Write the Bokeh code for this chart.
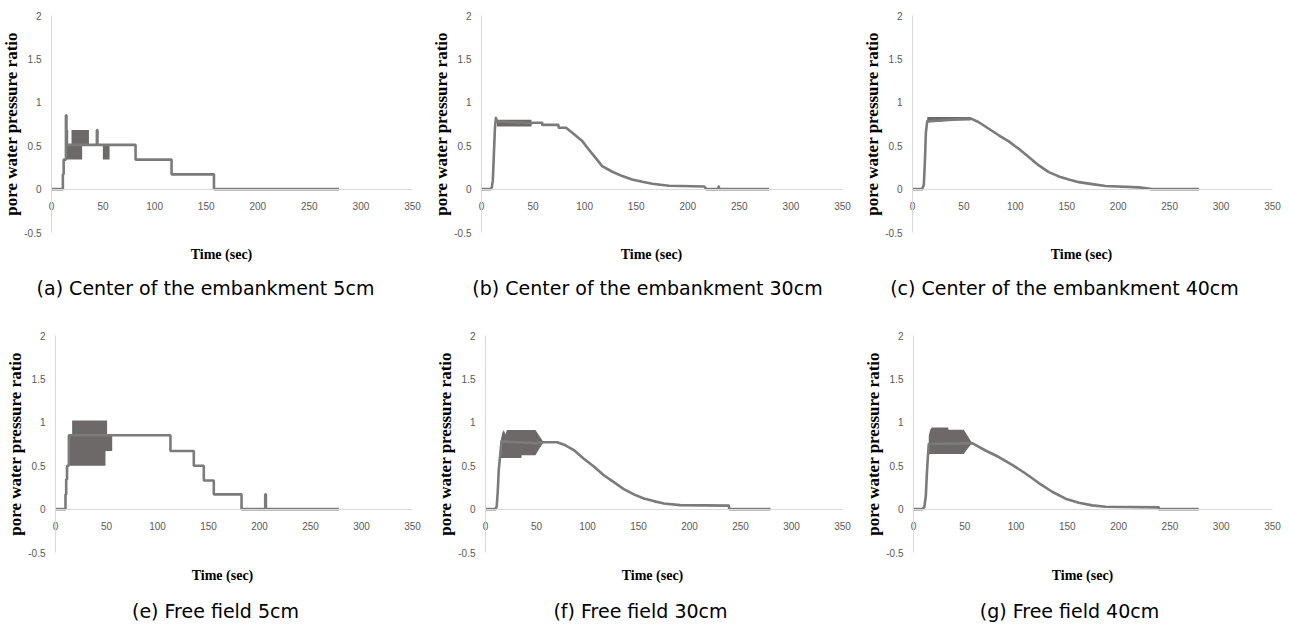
from bokeh.plotting import figure
from bokeh.models import LinearAxis, FixedTicker, NumeralTickFormatter, Label, Range1d
from bokeh.layouts import column, row
from bokeh.embed import file_html
from bokeh.resources import INLINE

# ---------------- data ----------------
X_TICKS = [0, 50, 100, 150, 200, 250, 300, 350]
Y_TICKS = [-0.5, 0, 0.5, 1, 1.5, 2]

CAPTIONS = ["(a) Center of the embankment 5cm",
            "(b) Center of the embankment 30cm",
            "(c) Center of the  embankment 40cm",
            "(e) Free field 5cm",
            "(f) Free field 30cm",
            "(g) Free field 40cm"]

# (a) centre of embankment 5 cm  - stepped record
a_t = [0, 11.0, 11.8, 12.6, 14.0, 14.5, 36.3, 44.0, 44.6, 81.5, 116.4, 157.5, 278.7]
a_v = [0, 0.17, 0.34, 0.34, 0.85, 0.51, 0.51, 0.68, 0.51, 0.34, 0.17, 0.0, 0.0]
a_band1_t = [14.5, 16.2, 16.2, 19.4, 19.4, 29.7, 29.7, 36.3]
a_band1_lo = [0.34, 0.34, 0.34, 0.34, 0.34, 0.34, 0.51, 0.51]
a_band1_hi = [0.68, 0.68, 0.51, 0.51, 0.68, 0.68, 0.68, 0.68]
a_band2_t = [49.8, 56.3]
a_band2_lo = [0.34, 0.34]
a_band2_hi = [0.51, 0.51]

# (b) centre of embankment 30 cm
b_t = [0, 8.7, 10, 11, 12, 13, 14, 15, 48.5, 50, 58.8, 59, 74.4, 75, 82, 88, 97.7, 104,
       110.6, 117, 126.8, 136.5, 146, 155.9, 165.6, 181.7, 216, 218, 229.5, 230, 230.5, 278.7]
b_v = [0, 0, 0.02, 0.1, 0.4, 0.7, 0.82, 0.78, 0.76, 0.765, 0.765, 0.74, 0.74, 0.706, 0.706,
       0.65, 0.553, 0.457, 0.36, 0.265, 0.2, 0.15, 0.11, 0.084, 0.061, 0.038, 0.03, 0.0, 0.0,
       0.03, 0.0, 0.0]
b_band_t = [15, 48.5]
b_band_lo = [0.72, 0.72]
b_band_hi = [0.80, 0.80]

# (c) centre of embankment 40 cm
c_t = [0, 9.4, 11, 12, 13, 14.3, 56.4, 64.5, 74.2, 83.9, 93.6, 103.3, 113, 122.8, 132.5,
       142.2, 152, 161.7, 174.7, 187.6, 220, 233, 278.4]
c_v = [0, 0, 0.05, 0.3, 0.65, 0.78, 0.815, 0.77, 0.695, 0.62, 0.55, 0.464, 0.369, 0.273,
       0.196, 0.146, 0.11, 0.08, 0.057, 0.035, 0.02, 0.0, 0.0]
c_band_t = [14.3, 28.8, 28.8, 56.4]
c_band_lo = [0.775, 0.775, 0.79, 0.79]
c_band_hi = [0.83, 0.83, 0.83, 0.83]

# (e) free field 5 cm - stepped record
e_t = [0, 9.8, 10.5, 11.3, 12.1, 13.1, 112.7, 135.6, 145.4, 155.2, 182.4, 205.6, 206.3, 277.8]
e_v = [0, 0.17, 0.34, 0.5, 0.5, 0.85, 0.67, 0.5, 0.33, 0.17, 0.0, 0.17, 0.0, 0.0]
e_band_t = [13.1, 16.3, 16.3, 49.0, 49.0, 50.6, 50.6, 55.6]
e_band_lo = [0.5, 0.5, 0.5, 0.5, 0.67, 0.67, 0.67, 0.67]
e_band_hi = [0.85, 0.85, 1.02, 1.02, 1.02, 1.02, 0.85, 0.85]

# (f) free field 30 cm
f_t = [0, 9.8, 11, 12, 13, 14.2, 15.7, 49, 57, 70.3, 78.4, 86.6, 96.4, 106.2, 116, 125.8,
       135.6, 145.4, 155.2, 165, 174.8, 191, 238.5, 239, 279.4]
f_v = [0, 0, 0.03, 0.2, 0.45, 0.6, 0.78, 0.76, 0.77, 0.77, 0.735, 0.68, 0.58, 0.49, 0.39,
       0.31, 0.23, 0.17, 0.123, 0.092, 0.065, 0.046, 0.04, 0.0, 0.0]
f_band_t = [14.7, 16.5, 18, 19.5, 21, 35.3, 35.3, 49, 53, 57]
f_band_lo = [0.59, 0.59, 0.59, 0.59, 0.59, 0.59, 0.62, 0.62, 0.70, 0.77]
f_band_hi = [0.78, 0.88, 0.91, 0.86, 0.91, 0.91, 0.91, 0.91, 0.84, 0.77]

# (g) free field 40 cm
g_t = [0, 8.5, 10.5, 12, 13, 14, 14.9, 57.2, 70.2, 83.2, 96.2, 109.2, 122.2, 135.2, 148.2,
       161.2, 174.2, 187.2, 239, 239.5, 278]
g_v = [0, 0, 0.02, 0.15, 0.4, 0.6, 0.75, 0.76, 0.675, 0.6, 0.51, 0.41, 0.30, 0.2, 0.12,
       0.074, 0.043, 0.027, 0.02, 0.0, 0.0]
g_band_t = [14.9, 16.5, 18, 34, 34, 49, 53, 57.2]
g_band_lo = [0.63, 0.635, 0.635, 0.635, 0.635, 0.635, 0.70, 0.76]
g_band_hi = [0.85, 0.92, 0.94, 0.94, 0.915, 0.915, 0.84, 0.76]

# ---------------- styling ----------------
LINE_COLOR = "#7b7b7b"
BAND_COLOR = "#6c6968"
AXIS_COLOR = "#d9d9d9"
TICK_COLOR = "#595959"
FIG_W = 430


def make_panel(caption, height, px_left, px_right, px_top, px_bottom,
               cap_pos, time_pos, series, step, bands):
    # the frame covers the whole figure; the data window [0,350]x[-0.5,2] sits at
    # the given pixel positions inside it
    xs = (px_right - px_left) / (X_TICKS[-1] - X_TICKS[0])
    ys = (px_bottom - px_top) / (Y_TICKS[-1] - Y_TICKS[0])
    x0 = X_TICKS[0] - px_left / xs
    x1 = X_TICKS[-1] + (FIG_W - px_right) / xs
    y1 = Y_TICKS[-1] + px_top / ys
    y0 = Y_TICKS[0] - (height - px_bottom) / ys

    p = figure(width=FIG_W, height=height, x_range=Range1d(x0, x1), y_range=Range1d(y0, y1),
               output_backend="svg", toolbar_location=None, x_axis_location=None,
               y_axis_location=None, min_border=0)
    p.outline_line_color = None
    p.xgrid.grid_line_color = None
    p.ygrid.grid_line_color = None
    p.background_fill_color = "white"
    p.border_fill_color = "white"

    ya = LinearAxis(fixed_location=0, ticker=FixedTicker(ticks=Y_TICKS),
                    bounds=(Y_TICKS[0], Y_TICKS[-1]))
    ya.formatter = NumeralTickFormatter(format="0.[0]")
    ya.axis_line_color = AXIS_COLOR
    ya.major_tick_line_color = None
    ya.minor_tick_line_color = None
    ya.major_label_standoff = 4
    ya.major_label_text_font = "Liberation Sans"
    ya.major_label_text_font_size = "10px"
    ya.major_label_text_color = TICK_COLOR
    ya.axis_label = "pore water pressure ratio"
    ya.axis_label_text_font = "Liberation Serif"
    ya.axis_label_text_font_style = "bold"
    ya.axis_label_text_font_size = "17px"
    ya.axis_label_text_color = "black"
    ya.axis_label_standoff = 0
    p.add_layout(ya, "left")

    xa = LinearAxis(fixed_location=0, ticker=FixedTicker(ticks=X_TICKS),
                    bounds=(X_TICKS[0], X_TICKS[-1]))
    xa.axis_line_color = AXIS_COLOR
    xa.major_tick_line_color = None
    xa.minor_tick_line_color = None
    xa.major_label_standoff = 7
    xa.major_label_text_font = "Liberation Sans"
    xa.major_label_text_font_size = "10px"
    xa.major_label_text_color = TICK_COLOR
    p.add_layout(xa, "below")

    for bt, blo, bhi in bands:
        p.varea(x=bt, y1=blo, y2=bhi, fill_color=BAND_COLOR, fill_alpha=1.0)

    t, v = series
    if step:
        p.step(x=t, y=v, mode="after", line_color=LINE_COLOR, line_width=2.6)
    else:
        p.line(x=t, y=v, line_color=LINE_COLOR, line_width=2.6, line_join="round")

    p.add_layout(Label(x=time_pos[0], y=height - time_pos[1], x_units="screen",
                       y_units="screen", text="Time (sec)", text_font="Liberation Serif",
                       text_font_style="bold", text_font_size="14px", text_color="black",
                       text_align="center", text_baseline="middle"))
    p.add_layout(Label(x=cap_pos[0], y=height - cap_pos[1], x_units="screen",
                       y_units="screen", text=caption, text_font="DejaVu Sans",
                       text_font_size="19px", text_color="black", text_align="center",
                       text_baseline="middle"))
    return p


pa = make_panel(CAPTIONS[0], 320, 51, 412, 15, 232, (205, 287), (221, 254), (a_t, a_v), True,
                [(a_band1_t, a_band1_lo, a_band1_hi), (a_band2_t, a_band2_lo, a_band2_hi)])
pb = make_panel(CAPTIONS[1], 320, 51, 412, 15, 232, (217, 287), (221, 254), (b_t, b_v), False,
                [(b_band_t, b_band_lo, b_band_hi)])
pc = make_panel(CAPTIONS[2], 320, 52, 412, 15, 232, (207, 287), (221, 254), (c_t, c_v), False,
                [(c_band_t, c_band_lo, c_band_hi)])
pe = make_panel(CAPTIONS[3], 308, 55, 412, 15, 232, (215, 290), (222, 255), (e_t, e_v), True,
                [(e_band_t, e_band_lo, e_band_hi)])
pf = make_panel(CAPTIONS[4], 308, 55, 412, 15, 232, (210, 290), (222, 255), (f_t, f_v), False,
                [(f_band_t, f_band_lo, f_band_hi)])
pg = make_panel(CAPTIONS[5], 308, 53, 412, 15, 232, (209, 290), (222, 255), (g_t, g_v), False,
                [(g_band_t, g_band_lo, g_band_hi)])

layout = column(row(pa, pb, pc), row(pe, pf, pg))
open("out.html", "w").write(file_html(layout, INLINE))
